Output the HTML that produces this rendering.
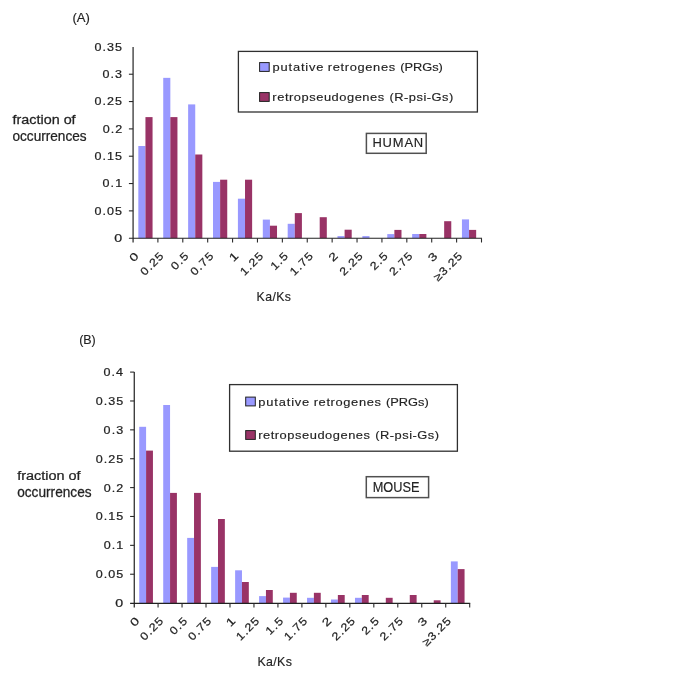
<!DOCTYPE html>
<html><head><meta charset="utf-8"><style>
html,body{margin:0;padding:0;background:#fff;}
svg{display:block;}
text{font-family:"Liberation Sans", sans-serif;stroke:#222;paint-order:stroke;}
</style></head><body>
<svg width="685" height="685" viewBox="0 0 685 685">
<rect width="685" height="685" fill="#fff"/>
<rect x="138.33" y="146.00" width="7.11" height="92.20" fill="#9999FF"/>
<rect x="145.45" y="117.10" width="7.11" height="121.10" fill="#993366"/>
<rect x="163.23" y="77.85" width="7.11" height="160.35" fill="#9999FF"/>
<rect x="170.34" y="117.10" width="7.11" height="121.10" fill="#993366"/>
<rect x="188.12" y="104.40" width="7.11" height="133.80" fill="#9999FF"/>
<rect x="195.23" y="154.50" width="7.11" height="83.70" fill="#993366"/>
<rect x="213.01" y="181.90" width="7.11" height="56.30" fill="#9999FF"/>
<rect x="220.13" y="179.70" width="7.11" height="58.50" fill="#993366"/>
<rect x="237.91" y="198.70" width="7.11" height="39.50" fill="#9999FF"/>
<rect x="245.02" y="179.70" width="7.11" height="58.50" fill="#993366"/>
<rect x="262.80" y="219.60" width="7.11" height="18.60" fill="#9999FF"/>
<rect x="269.91" y="225.70" width="7.11" height="12.50" fill="#993366"/>
<rect x="287.69" y="223.80" width="7.11" height="14.40" fill="#9999FF"/>
<rect x="294.80" y="213.10" width="7.11" height="25.10" fill="#993366"/>
<rect x="319.70" y="217.20" width="7.11" height="21.00" fill="#993366"/>
<rect x="337.48" y="236.10" width="7.11" height="2.10" fill="#9999FF"/>
<rect x="344.59" y="229.70" width="7.11" height="8.50" fill="#993366"/>
<rect x="362.37" y="236.10" width="7.11" height="2.10" fill="#9999FF"/>
<rect x="387.26" y="234.10" width="7.11" height="4.10" fill="#9999FF"/>
<rect x="394.38" y="229.90" width="7.11" height="8.30" fill="#993366"/>
<rect x="412.16" y="234.00" width="7.11" height="4.20" fill="#9999FF"/>
<rect x="419.27" y="234.00" width="7.11" height="4.20" fill="#993366"/>
<rect x="444.16" y="221.20" width="7.11" height="17.00" fill="#993366"/>
<rect x="461.94" y="219.40" width="7.11" height="18.80" fill="#9999FF"/>
<rect x="469.05" y="229.90" width="7.11" height="8.30" fill="#993366"/>
<line x1="133.10" y1="46.90" x2="133.10" y2="242.50" stroke="#505050" stroke-width="1.5"/>
<line x1="128.90" y1="238.30" x2="482.00" y2="238.30" stroke="#222" stroke-width="1.1"/>
<line x1="128.90" y1="210.87" x2="133.10" y2="210.87" stroke="#2a2a2a" stroke-width="1.1"/>
<line x1="128.90" y1="183.54" x2="133.10" y2="183.54" stroke="#2a2a2a" stroke-width="1.1"/>
<line x1="128.90" y1="156.21" x2="133.10" y2="156.21" stroke="#2a2a2a" stroke-width="1.1"/>
<line x1="128.90" y1="128.89" x2="133.10" y2="128.89" stroke="#2a2a2a" stroke-width="1.1"/>
<line x1="128.90" y1="101.56" x2="133.10" y2="101.56" stroke="#2a2a2a" stroke-width="1.1"/>
<line x1="128.90" y1="74.23" x2="133.10" y2="74.23" stroke="#2a2a2a" stroke-width="1.1"/>
<line x1="157.89" y1="238.30" x2="157.89" y2="242.50" stroke="#2a2a2a" stroke-width="1.1"/>
<line x1="182.79" y1="238.30" x2="182.79" y2="242.50" stroke="#2a2a2a" stroke-width="1.1"/>
<line x1="207.68" y1="238.30" x2="207.68" y2="242.50" stroke="#2a2a2a" stroke-width="1.1"/>
<line x1="232.57" y1="238.30" x2="232.57" y2="242.50" stroke="#2a2a2a" stroke-width="1.1"/>
<line x1="257.46" y1="238.30" x2="257.46" y2="242.50" stroke="#2a2a2a" stroke-width="1.1"/>
<line x1="282.36" y1="238.30" x2="282.36" y2="242.50" stroke="#2a2a2a" stroke-width="1.1"/>
<line x1="307.25" y1="238.30" x2="307.25" y2="242.50" stroke="#2a2a2a" stroke-width="1.1"/>
<line x1="332.14" y1="238.30" x2="332.14" y2="242.50" stroke="#2a2a2a" stroke-width="1.1"/>
<line x1="357.04" y1="238.30" x2="357.04" y2="242.50" stroke="#2a2a2a" stroke-width="1.1"/>
<line x1="381.93" y1="238.30" x2="381.93" y2="242.50" stroke="#2a2a2a" stroke-width="1.1"/>
<line x1="406.82" y1="238.30" x2="406.82" y2="242.50" stroke="#2a2a2a" stroke-width="1.1"/>
<line x1="431.71" y1="238.30" x2="431.71" y2="242.50" stroke="#2a2a2a" stroke-width="1.1"/>
<line x1="456.61" y1="238.30" x2="456.61" y2="242.50" stroke="#2a2a2a" stroke-width="1.1"/>
<line x1="481.50" y1="238.30" x2="481.50" y2="242.50" stroke="#2a2a2a" stroke-width="1.1"/>
<rect x="139.24" y="426.80" width="6.85" height="176.30" fill="#9999FF"/>
<rect x="146.09" y="450.60" width="6.85" height="152.50" fill="#993366"/>
<rect x="163.21" y="405.00" width="6.85" height="198.10" fill="#9999FF"/>
<rect x="170.06" y="492.90" width="6.85" height="110.20" fill="#993366"/>
<rect x="187.18" y="537.90" width="6.85" height="65.20" fill="#9999FF"/>
<rect x="194.03" y="492.90" width="6.85" height="110.20" fill="#993366"/>
<rect x="211.15" y="566.90" width="6.85" height="36.20" fill="#9999FF"/>
<rect x="218.00" y="519.00" width="6.85" height="84.10" fill="#993366"/>
<rect x="235.12" y="570.30" width="6.85" height="32.80" fill="#9999FF"/>
<rect x="241.97" y="582.00" width="6.85" height="21.10" fill="#993366"/>
<rect x="259.09" y="596.10" width="6.85" height="7.00" fill="#9999FF"/>
<rect x="265.94" y="590.00" width="6.85" height="13.10" fill="#993366"/>
<rect x="283.07" y="597.60" width="6.85" height="5.50" fill="#9999FF"/>
<rect x="289.91" y="592.80" width="6.85" height="10.30" fill="#993366"/>
<rect x="307.04" y="597.80" width="6.85" height="5.30" fill="#9999FF"/>
<rect x="313.89" y="592.80" width="6.85" height="10.30" fill="#993366"/>
<rect x="331.01" y="599.50" width="6.85" height="3.60" fill="#9999FF"/>
<rect x="337.86" y="595.00" width="6.85" height="8.10" fill="#993366"/>
<rect x="354.98" y="597.80" width="6.85" height="5.30" fill="#9999FF"/>
<rect x="361.83" y="595.00" width="6.85" height="8.10" fill="#993366"/>
<rect x="385.80" y="597.80" width="6.85" height="5.30" fill="#993366"/>
<rect x="409.77" y="595.00" width="6.85" height="8.10" fill="#993366"/>
<rect x="433.74" y="600.30" width="6.85" height="2.80" fill="#993366"/>
<rect x="450.87" y="561.40" width="6.85" height="41.70" fill="#9999FF"/>
<rect x="457.71" y="569.10" width="6.85" height="34.00" fill="#993366"/>
<line x1="134.30" y1="372.10" x2="134.30" y2="607.55" stroke="#404040" stroke-width="1.4"/>
<line x1="130.10" y1="603.35" x2="470.20" y2="603.35" stroke="#222" stroke-width="1.1"/>
<line x1="130.10" y1="574.23" x2="134.30" y2="574.23" stroke="#2a2a2a" stroke-width="1.1"/>
<line x1="130.10" y1="545.35" x2="134.30" y2="545.35" stroke="#2a2a2a" stroke-width="1.1"/>
<line x1="130.10" y1="516.48" x2="134.30" y2="516.48" stroke="#2a2a2a" stroke-width="1.1"/>
<line x1="130.10" y1="487.60" x2="134.30" y2="487.60" stroke="#2a2a2a" stroke-width="1.1"/>
<line x1="130.10" y1="458.73" x2="134.30" y2="458.73" stroke="#2a2a2a" stroke-width="1.1"/>
<line x1="130.10" y1="429.85" x2="134.30" y2="429.85" stroke="#2a2a2a" stroke-width="1.1"/>
<line x1="130.10" y1="400.98" x2="134.30" y2="400.98" stroke="#2a2a2a" stroke-width="1.1"/>
<line x1="130.10" y1="372.10" x2="134.30" y2="372.10" stroke="#2a2a2a" stroke-width="1.1"/>
<line x1="158.07" y1="603.35" x2="158.07" y2="607.55" stroke="#2a2a2a" stroke-width="1.1"/>
<line x1="182.04" y1="603.35" x2="182.04" y2="607.55" stroke="#2a2a2a" stroke-width="1.1"/>
<line x1="206.01" y1="603.35" x2="206.01" y2="607.55" stroke="#2a2a2a" stroke-width="1.1"/>
<line x1="229.99" y1="603.35" x2="229.99" y2="607.55" stroke="#2a2a2a" stroke-width="1.1"/>
<line x1="253.96" y1="603.35" x2="253.96" y2="607.55" stroke="#2a2a2a" stroke-width="1.1"/>
<line x1="277.93" y1="603.35" x2="277.93" y2="607.55" stroke="#2a2a2a" stroke-width="1.1"/>
<line x1="301.90" y1="603.35" x2="301.90" y2="607.55" stroke="#2a2a2a" stroke-width="1.1"/>
<line x1="325.87" y1="603.35" x2="325.87" y2="607.55" stroke="#2a2a2a" stroke-width="1.1"/>
<line x1="349.84" y1="603.35" x2="349.84" y2="607.55" stroke="#2a2a2a" stroke-width="1.1"/>
<line x1="373.81" y1="603.35" x2="373.81" y2="607.55" stroke="#2a2a2a" stroke-width="1.1"/>
<line x1="397.79" y1="603.35" x2="397.79" y2="607.55" stroke="#2a2a2a" stroke-width="1.1"/>
<line x1="421.76" y1="603.35" x2="421.76" y2="607.55" stroke="#2a2a2a" stroke-width="1.1"/>
<line x1="445.73" y1="603.35" x2="445.73" y2="607.55" stroke="#2a2a2a" stroke-width="1.1"/>
<line x1="469.70" y1="603.35" x2="469.70" y2="607.55" stroke="#2a2a2a" stroke-width="1.1"/>
<rect x="238.40" y="51.40" width="239.00" height="60.60" fill="#fff" stroke="#303030" stroke-width="1.3"/>
<rect x="259.60" y="62.60" width="9.60" height="8.80" fill="#9999FF" stroke="#202020" stroke-width="1"/>
<rect x="259.60" y="92.60" width="9.60" height="8.80" fill="#993366" stroke="#202020" stroke-width="1"/>
<rect x="229.60" y="384.60" width="227.80" height="66.60" fill="#fff" stroke="#303030" stroke-width="1.3"/>
<rect x="245.70" y="397.10" width="9.60" height="8.80" fill="#9999FF" stroke="#202020" stroke-width="1"/>
<rect x="245.70" y="430.60" width="9.60" height="8.80" fill="#993366" stroke="#202020" stroke-width="1"/>
<rect x="366.40" y="133.40" width="59.80" height="19.90" fill="#fff" stroke="#505050" stroke-width="1.5"/>
<rect x="366.30" y="476.70" width="62.30" height="20.90" fill="#fff" stroke="#505050" stroke-width="1.5"/>
<g style="opacity:0.999" stroke-width="0.15">
<text x="0" y="0" font-size="11.100" stroke-width="0.22" fill="#222" transform="translate(114.21,242.10) scale(1.2800,1)">0</text>
<text x="0" y="0" font-size="11.100" letter-spacing="0.916" stroke-width="0.22" fill="#222" transform="translate(94.60,214.77) scale(1.1300,1)">0.05</text>
<text x="0" y="0" font-size="11.100" letter-spacing="0.961" stroke-width="0.22" fill="#222" transform="translate(102.56,187.44) scale(1.1300,1)">0.1</text>
<text x="0" y="0" font-size="11.100" letter-spacing="0.916" stroke-width="0.22" fill="#222" transform="translate(94.60,160.11) scale(1.1300,1)">0.15</text>
<text x="0" y="0" font-size="11.100" letter-spacing="0.958" stroke-width="0.22" fill="#222" transform="translate(102.63,132.79) scale(1.1300,1)">0.2</text>
<text x="0" y="0" font-size="11.100" letter-spacing="0.916" stroke-width="0.22" fill="#222" transform="translate(94.60,105.46) scale(1.1300,1)">0.25</text>
<text x="0" y="0" font-size="11.100" letter-spacing="0.965" stroke-width="0.22" fill="#222" transform="translate(102.49,78.13) scale(1.1300,1)">0.3</text>
<text x="0" y="0" font-size="11.100" letter-spacing="0.916" stroke-width="0.22" fill="#222" transform="translate(94.60,50.80) scale(1.1300,1)">0.35</text>
<text x="0" y="0" font-size="11.100" stroke-width="0.22" fill="#222" transform="translate(139.05,257.20) rotate(-45) scale(1.2800,1) translate(-5.77,0)">0</text>
<text x="0" y="0" font-size="11.100" letter-spacing="0.916" stroke-width="0.22" fill="#222" transform="translate(163.94,257.20) rotate(-45) scale(1.1300,1) translate(-23.89,0)">0.25</text>
<text x="0" y="0" font-size="11.100" letter-spacing="0.965" stroke-width="0.22" fill="#222" transform="translate(188.83,257.20) rotate(-45) scale(1.1300,1) translate(-16.92,0)">0.5</text>
<text x="0" y="0" font-size="11.100" letter-spacing="0.916" stroke-width="0.22" fill="#222" transform="translate(213.72,257.20) rotate(-45) scale(1.1300,1) translate(-23.89,0)">0.75</text>
<text x="0" y="0" font-size="11.100" stroke-width="0.22" fill="#222" transform="translate(238.62,257.20) rotate(-45) scale(1.2800,1) translate(-5.66,0)">1</text>
<text x="0" y="0" font-size="11.100" letter-spacing="0.899" stroke-width="0.22" fill="#222" transform="translate(263.51,257.20) rotate(-45) scale(1.1300,1) translate(-23.84,0)">1.25</text>
<text x="0" y="0" font-size="11.100" letter-spacing="0.939" stroke-width="0.22" fill="#222" transform="translate(288.40,257.20) rotate(-45) scale(1.1300,1) translate(-16.86,0)">1.5</text>
<text x="0" y="0" font-size="11.100" letter-spacing="0.899" stroke-width="0.22" fill="#222" transform="translate(313.30,257.20) rotate(-45) scale(1.1300,1) translate(-23.84,0)">1.75</text>
<text x="0" y="0" font-size="11.100" stroke-width="0.22" fill="#222" transform="translate(338.19,257.20) rotate(-45) scale(1.2800,1) translate(-5.61,0)">2</text>
<text x="0" y="0" font-size="11.100" letter-spacing="0.911" stroke-width="0.22" fill="#222" transform="translate(363.08,257.20) rotate(-45) scale(1.1300,1) translate(-23.88,0)">2.25</text>
<text x="0" y="0" font-size="11.100" letter-spacing="0.958" stroke-width="0.22" fill="#222" transform="translate(387.98,257.20) rotate(-45) scale(1.1300,1) translate(-16.90,0)">2.5</text>
<text x="0" y="0" font-size="11.100" letter-spacing="0.911" stroke-width="0.22" fill="#222" transform="translate(412.87,257.20) rotate(-45) scale(1.1300,1) translate(-23.88,0)">2.75</text>
<text x="0" y="0" font-size="11.100" stroke-width="0.22" fill="#222" transform="translate(437.76,257.20) rotate(-45) scale(1.2800,1) translate(-5.72,0)">3</text>
<text x="0" y="0" font-size="11.100" letter-spacing="0.893" stroke-width="0.22" fill="#222" transform="translate(462.65,257.20) rotate(-45) scale(1.1300,1) translate(-30.82,0)">≥3.25</text>
<text x="0" y="0" font-size="11.100" stroke-width="0.22" fill="#222" transform="translate(115.31,607.00) scale(1.2800,1)">0</text>
<text x="0" y="0" font-size="11.100" letter-spacing="0.916" stroke-width="0.22" fill="#222" transform="translate(95.70,578.12) scale(1.1300,1)">0.05</text>
<text x="0" y="0" font-size="11.100" letter-spacing="0.961" stroke-width="0.22" fill="#222" transform="translate(103.66,549.25) scale(1.1300,1)">0.1</text>
<text x="0" y="0" font-size="11.100" letter-spacing="0.916" stroke-width="0.22" fill="#222" transform="translate(95.70,520.38) scale(1.1300,1)">0.15</text>
<text x="0" y="0" font-size="11.100" letter-spacing="0.958" stroke-width="0.22" fill="#222" transform="translate(103.73,491.50) scale(1.1300,1)">0.2</text>
<text x="0" y="0" font-size="11.100" letter-spacing="0.916" stroke-width="0.22" fill="#222" transform="translate(95.70,462.62) scale(1.1300,1)">0.25</text>
<text x="0" y="0" font-size="11.100" letter-spacing="0.965" stroke-width="0.22" fill="#222" transform="translate(103.59,433.75) scale(1.1300,1)">0.3</text>
<text x="0" y="0" font-size="11.100" letter-spacing="0.916" stroke-width="0.22" fill="#222" transform="translate(95.70,404.88) scale(1.1300,1)">0.35</text>
<text x="0" y="0" font-size="11.100" letter-spacing="0.972" stroke-width="0.22" fill="#222" transform="translate(103.44,376.00) scale(1.1300,1)">0.4</text>
<text x="0" y="0" font-size="11.100" stroke-width="0.22" fill="#222" transform="translate(139.69,622.10) rotate(-45) scale(1.2800,1) translate(-5.77,0)">0</text>
<text x="0" y="0" font-size="11.100" letter-spacing="0.916" stroke-width="0.22" fill="#222" transform="translate(163.66,622.10) rotate(-45) scale(1.1300,1) translate(-23.89,0)">0.25</text>
<text x="0" y="0" font-size="11.100" letter-spacing="0.965" stroke-width="0.22" fill="#222" transform="translate(187.63,622.10) rotate(-45) scale(1.1300,1) translate(-16.92,0)">0.5</text>
<text x="0" y="0" font-size="11.100" letter-spacing="0.916" stroke-width="0.22" fill="#222" transform="translate(211.60,622.10) rotate(-45) scale(1.1300,1) translate(-23.89,0)">0.75</text>
<text x="0" y="0" font-size="11.100" stroke-width="0.22" fill="#222" transform="translate(235.57,622.10) rotate(-45) scale(1.2800,1) translate(-5.66,0)">1</text>
<text x="0" y="0" font-size="11.100" letter-spacing="0.899" stroke-width="0.22" fill="#222" transform="translate(259.54,622.10) rotate(-45) scale(1.1300,1) translate(-23.84,0)">1.25</text>
<text x="0" y="0" font-size="11.100" letter-spacing="0.939" stroke-width="0.22" fill="#222" transform="translate(283.51,622.10) rotate(-45) scale(1.1300,1) translate(-16.86,0)">1.5</text>
<text x="0" y="0" font-size="11.100" letter-spacing="0.899" stroke-width="0.22" fill="#222" transform="translate(307.49,622.10) rotate(-45) scale(1.1300,1) translate(-23.84,0)">1.75</text>
<text x="0" y="0" font-size="11.100" stroke-width="0.22" fill="#222" transform="translate(331.46,622.10) rotate(-45) scale(1.2800,1) translate(-5.61,0)">2</text>
<text x="0" y="0" font-size="11.100" letter-spacing="0.911" stroke-width="0.22" fill="#222" transform="translate(355.43,622.10) rotate(-45) scale(1.1300,1) translate(-23.88,0)">2.25</text>
<text x="0" y="0" font-size="11.100" letter-spacing="0.958" stroke-width="0.22" fill="#222" transform="translate(379.40,622.10) rotate(-45) scale(1.1300,1) translate(-16.90,0)">2.5</text>
<text x="0" y="0" font-size="11.100" letter-spacing="0.911" stroke-width="0.22" fill="#222" transform="translate(403.37,622.10) rotate(-45) scale(1.1300,1) translate(-23.88,0)">2.75</text>
<text x="0" y="0" font-size="11.100" stroke-width="0.22" fill="#222" transform="translate(427.34,622.10) rotate(-45) scale(1.2800,1) translate(-5.72,0)">3</text>
<text x="0" y="0" font-size="11.100" letter-spacing="0.893" stroke-width="0.22" fill="#222" transform="translate(451.31,622.10) rotate(-45) scale(1.1300,1) translate(-30.82,0)">≥3.25</text>
<text x="0" y="0" font-size="12.355" fill="#222" transform="translate(72.42,22.30) scale(1.0569,1)">(A)</text>
<text x="0" y="0" font-size="12.936" fill="#222" transform="translate(79.15,344.40) scale(0.9647,1)">(B)</text>
<text x="0" y="0" font-size="13.517" stroke-width="0.25" fill="#222" transform="translate(12.58,123.90) scale(1.0624,1)">fraction of</text>
<text x="0" y="0" font-size="14.394" stroke-width="0.25" fill="#222" transform="translate(12.45,140.70) scale(0.9470,1)">occurrences</text>
<text x="0" y="0" font-size="13.241" stroke-width="0.25" fill="#222" transform="translate(17.18,479.70) scale(1.0914,1)">fraction of</text>
<text x="0" y="0" font-size="14.205" stroke-width="0.25" fill="#222" transform="translate(17.15,496.80) scale(0.9636,1)">occurrences</text>
<text x="0" y="0" font-size="12.791" letter-spacing="0.450" fill="#222" transform="translate(256.52,301.30) scale(0.9600,1)">Ka/Ks</text>
<text x="0" y="0" font-size="12.936" letter-spacing="0.357" fill="#222" transform="translate(257.41,666.00) scale(0.9600,1)">Ka/Ks</text>
<text x="0" y="0" font-size="11.400" letter-spacing="0.750" fill="#222" transform="translate(272.46,71.00) scale(1.1300,1)">putative</text>
<text x="0" y="0" font-size="11.400" letter-spacing="0.562" fill="#222" transform="translate(327.86,71.00) scale(1.1300,1)">retrogenes</text>
<text x="0" y="0" font-size="11.400" fill="#222" transform="translate(400.13,71.00) scale(1.1259,1)">(PRGs)</text>
<text x="0" y="0" font-size="11.400" letter-spacing="0.475" fill="#222" transform="translate(272.36,101.10) scale(1.1300,1)">retropseudogenes</text>
<text x="0" y="0" font-size="11.400" letter-spacing="0.439" fill="#222" transform="translate(389.43,101.10) scale(1.1300,1)">(R-psi-Gs)</text>
<text x="0" y="0" font-size="11.400" letter-spacing="0.750" fill="#222" transform="translate(258.26,405.60) scale(1.1300,1)">putative</text>
<text x="0" y="0" font-size="11.400" letter-spacing="0.562" fill="#222" transform="translate(313.66,405.60) scale(1.1300,1)">retrogenes</text>
<text x="0" y="0" font-size="11.400" fill="#222" transform="translate(385.93,405.60) scale(1.1259,1)">(PRGs)</text>
<text x="0" y="0" font-size="11.400" letter-spacing="0.475" fill="#222" transform="translate(258.16,439.00) scale(1.1300,1)">retropseudogenes</text>
<text x="0" y="0" font-size="11.400" letter-spacing="0.439" fill="#222" transform="translate(375.23,439.00) scale(1.1300,1)">(R-psi-Gs)</text>
<text x="0" y="0" font-size="13.517" letter-spacing="0.838" fill="#222" transform="translate(372.46,147.40) scale(0.9600,1)">HUMAN</text>
<text x="0" y="0" font-size="13.953" fill="#222" transform="translate(372.68,491.70) scale(0.9158,1)">MOUSE</text>
</g>
</svg>
</body></html>
